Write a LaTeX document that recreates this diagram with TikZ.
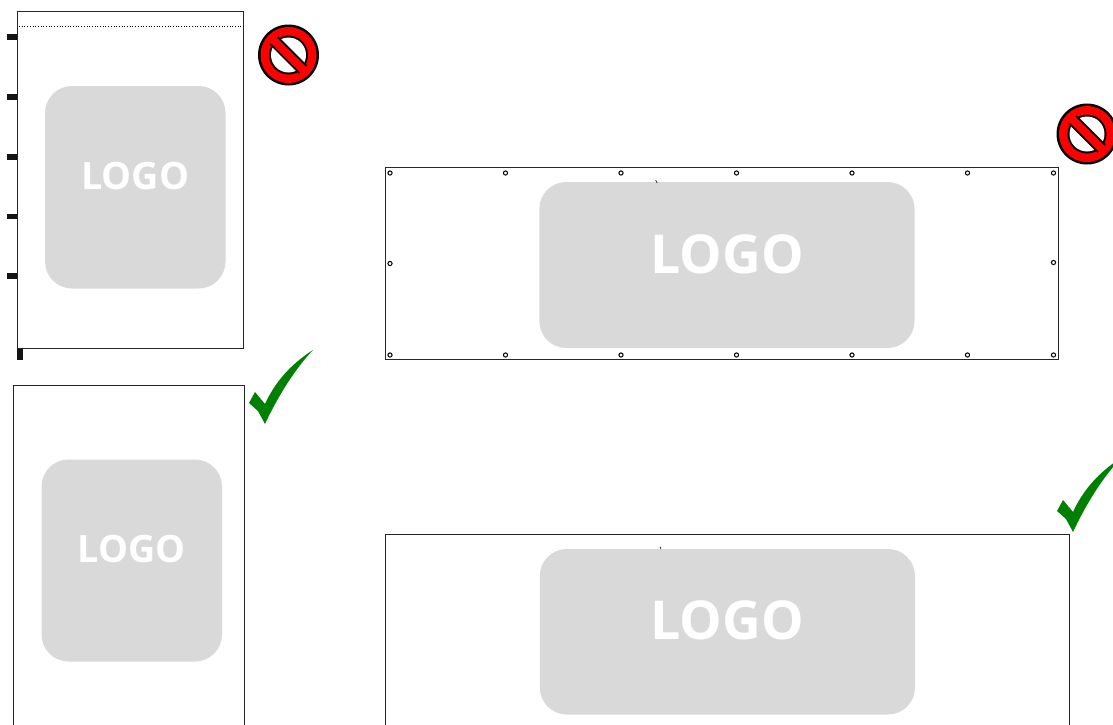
\documentclass[tikz,border=0pt]{standalone}
\usepackage{fontspec}
\newfontfamily\logofont[Scale=1]{Open Sans}
\tikzset{
  frame/.style={draw=black!85,line width=0.9pt,fill=white},
  logobox/.style={fill=logogray,draw=none},
  logotext/.style={text=white,font=\logofont\bfseries\fontsize{#1}{#1}\selectfont,inner sep=0pt,anchor=center},
  tick/.style={fill=black!92,draw=none},
  grommet/.style={circle,draw=black,line width=1pt,fill=white,minimum size=4.2pt,inner sep=0pt},
  nosign/.pic={
    \fill[black] (0,0) circle (30.5);
    \fill[signred] (0,0) circle (28);
    \fill[black] (0,0) circle (19.5);
    \fill[white] (0,0) circle (17.5);
    \fill[black,rotate=-45] (-20.5,-6) rectangle (20.5,6);
    \fill[signred,rotate=-45] (-22,-4) rectangle (22,4);
  },
  checkmark/.pic={
    \fill[signgreen] (265,404) .. controls (275,382) and (291,364) .. (313,350)
      .. controls (296,368) and (279,394) .. (265,424)
      -- (258,411) -- (249,403) -- (255,392) -- cycle;
  }
}
\definecolor{logogray}{HTML}{D9D9D9}
\definecolor{signred}{HTML}{FF0000}
\definecolor{signgreen}{HTML}{008000}
\begin{document}
\begin{tikzpicture}[x=1pt,y=-1pt]
\useasboundingbox (0,0) rectangle (1113,724);
\clip (0,0) rectangle (1113,724);
\fill[white] (0,0) rectangle (1113,724);
% ticks
\foreach \y in {37,97,157,216.5,276} \fill[tick] (6.7,\y-2.6) rectangle (18,\y+2.6);
\fill[tick] (17,348) rectangle (22.5,359.5);
% frames
\draw[frame] (17.9,11.9) rectangle (243.5,348);
\draw[frame] (13.9,385.1) rectangle (244.5,740);
\draw[frame] (385.1,167) rectangle (1058.5,359);
\draw[frame] (385.1,534.1) rectangle (1069.5,740);
\draw[black,line width=0.7pt,dotted] (19,26.5) -- (243,26.5);
% logo boxes
\fill[logobox,rounded corners=27] (45,86) rectangle (225.5,288.5);
\fill[logobox,rounded corners=27] (41.5,459.5) rectangle (222,661.5);
\fill[logobox,rounded corners=27] (539.3,182) rectangle (914.5,348);
\fill[logobox,rounded corners=27] (539.8,549) rectangle (915,714.5);
\node[logotext=37.7] (logoa) at (135.2,176) {LOGO};
\node[logotext=37.7] (logob) at (131.7,549) {LOGO};
\node[logotext=53.6] (logoc) at (727,254) {LOGO};
\node[logotext=53.6] (logod) at (727,620.5) {LOGO};
% grommets
\foreach \x [count=\i] in {390,505.5,621,736.5,852,967.5,1053.5} {
  \node[grommet] (gt\i) at (\x,173) {};
  \node[grommet] (gb\i) at (\x,355) {};
}
\node[grommet] (gl) at (390,263.5) {};
\node[grommet] (gr) at (1053.5,262.5) {};
% small marks
\draw[black,line width=0.6pt] (655.6,180) -- (657.2,183);
\draw[black,line width=0.6pt] (660,546.8) -- (661,549);
% signs
\pic at (288.5,55) {nosign};
\pic at (1087,134) {nosign};
\pic at (0,0) {checkmark};
\pic at (808,108) {checkmark};
\end{tikzpicture}
\end{document}
